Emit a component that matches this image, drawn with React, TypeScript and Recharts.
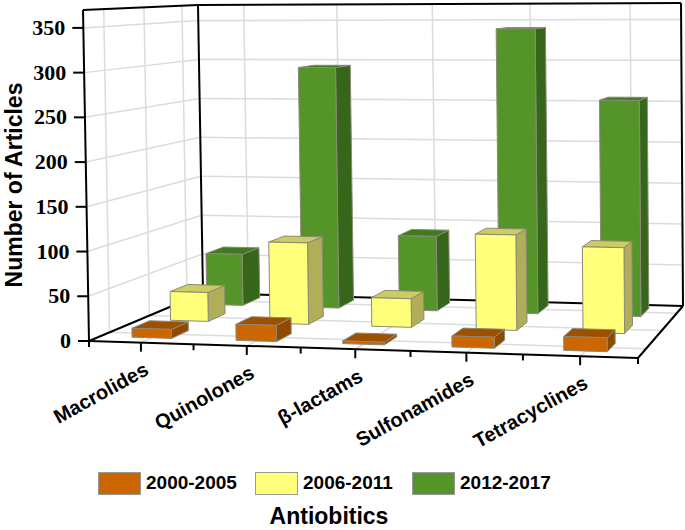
import React from 'react';
import { BarChart, Bar, XAxis, YAxis, Legend, Customized } from 'recharts';

const categories = ['Macrolides', 'Quinolones', 'β-lactams', 'Sulfonamides', 'Tetracyclines'];
const s2000 = [10, 18, 3, 12, 15];
const s2006 = [34, 95, 33, 109, 97];
const s2012 = [63, 294, 90, 341, 256];
const yTicks = [0, 50, 100, 150, 200, 250, 300, 350];
const data = categories.map((c, i) => ({ c, a: s2000[i], b: s2006[i], d: s2012[i] }));

const LEFT = 89, TOP = 10, W = 549, H = 331, CH = 530, CW = 685;
const LEG_H = 30, XH = 60;
const C: Record<string, number[]> = {
  flb: [89, 341], frb: [638, 358], blb: [203, 293], brb: [683, 306],
  flt: [83, 10], frt: [636, 8], blt: [198, 5], brt: [681, 3],
};
const warp = (u: number) => u - 0.06 * u * (1 - u);
const proj = (u: number, v: number, h: number): [number, number] => {
  const w = warp(u);
  const out = [0, 1].map((k) => {
    const b = (1 - v) * ((1 - w) * C.flb[k] + w * C.frb[k]) + v * ((1 - w) * C.blb[k] + w * C.brb[k]);
    const t = (1 - v) * ((1 - w) * C.flt[k] + w * C.frt[k]) + v * ((1 - w) * C.blt[k] + w * C.brt[k]);
    return (1 - h) * b + h * t;
  });
  return [out[0], out[1]];
};
const pts = (a: [number, number][]) => a.map((p) => p.join(',')).join(' ');

const DEPTH = 0.16;
const box = (v: number, top: string, side: string) => (p: any) => {
  const { x, width, height, fill } = p;
  const u0 = (x - LEFT) / W, u1 = (x + width - LEFT) / W, h = height / H;
  const a = proj(u0, v, 0), b = proj(u1, v, 0), c = proj(u1, v, h), e = proj(u0, v, h);
  const c2 = proj(u1, v + DEPTH, h), e2 = proj(u0, v + DEPTH, h), b2 = proj(u1, v + DEPTH, 0);
  const sp = { stroke: '#8a8a78', strokeWidth: 1, strokeLinejoin: 'round' as const };
  return (
    <g>
      <polygon points={pts([b, b2, c2, c])} fill={side} {...sp} />
      <polygon points={pts([e, c, c2, e2])} fill={top} {...sp} />
      <polygon points={pts([a, b, c, e])} fill={fill} {...sp} />
    </g>
  );
};

const GRID = '#dcdcdc';
const depthLines = [0.18, 0.53, 0.86];
const Frame = () => {
  const ln = (p: [number, number], q: [number, number], stroke: string, sw: number, key: string) => (
    <line key={key} x1={p[0]} y1={p[1]} x2={q[0]} y2={q[1]} stroke={stroke} strokeWidth={sw} />
  );
  const items: React.ReactNode[] = [];
  yTicks.filter((t) => t > 0).forEach((t) => {
    const h = t / 370;
    items.push(ln(proj(0, 0, h), proj(0, 1, h), GRID, 1.5, `ls${t}`));
    items.push(ln(proj(0, 1, h), proj(1, 1, h), GRID, 1.5, `bs${t}`));
  });
  depthLines.forEach((v) => {
    items.push(ln(proj(0, v, 0), proj(0, v, 1), GRID, 1.5, `lv${v}`));
    items.push(ln(proj(0, v, 0), proj(1, v, 0), GRID, 1.5, `fv${v}`));
  });
  categories.forEach((_, i) => {
    const u = (i + 0.5) / categories.length;
    items.push(ln(proj(u, 1, 0), proj(u, 1, 1), GRID, 1.5, `bv${i}`));
    items.push(ln(proj(u, 0, 0), proj(u, 1, 0), GRID, 1.5, `fu${i}`));
  });
  const black = '#000';
  const edges: [[number, number], [number, number], string][] = [
    [proj(0, 0, 0), proj(0, 0, 1), 'a'], [proj(0, 0, 1), proj(0, 1, 1), 'b'], [proj(0, 1, 1), proj(0, 1, 0), 'c'],
    [proj(0, 1, 1), proj(1, 1, 1), 'd'], [proj(1, 1, 1), proj(1, 1, 0), 'e'], [proj(0, 0, 0), proj(0, 1, 0), 'f'],
    [proj(0, 1, 0), proj(1, 1, 0), 'g'], [proj(1, 1, 0), proj(1, 0, 0), 'h'], [proj(0, 0, 0), proj(1, 0, 0), 'i'],
  ];
  edges.forEach(([p, q, k]) => items.push(ln(p, q, black, 2, k)));
  categories.concat(['end']).forEach((_, i) => {
    const p = proj(i / categories.length, 0, 0);
    items.push(ln(p, [p[0], p[1] + 6], black, 2, `mt${i}`));
  });
  return <g>{items}</g>;
};

const YTick = (p: any) => {
  const h = (TOP + H - p.y) / H;
  const [px, py] = proj(0, 0, h);
  return (
    <g>
      <line x1={px - 11} y1={py} x2={px} y2={py} stroke="#000" strokeWidth={2} />
      <text x={px - 18} y={py + 7} textAnchor="end" fontFamily="Liberation Serif" fontWeight="bold" fontSize={22} fill="#000">
        {p.payload.value}
      </text>
    </g>
  );
};
const XTick = (p: any) => {
  const [px, py] = proj((p.x - LEFT) / W, 0, 0);
  const ax = px + 9, ay = py + 31;
  return (
    <g>
      <line x1={px} y1={py} x2={px} y2={py + 9} stroke="#000" strokeWidth={2} />
      <text x={ax} y={ay} transform={`rotate(-29 ${ax} ${ay})`} textAnchor="end" fontFamily="Liberation Sans" fontWeight="bold" fontSize={20} fill="#000">
        {p.payload.value}
      </text>
    </g>
  );
};

const legendX = [98, 255, 412];
const LegendBox = (p: any) => {
  const items = [...(p.payload || [])].sort((a: any, b: any) => String(a.value).localeCompare(String(b.value)));
  return (
    <div style={{ position: 'relative', width: CW, height: LEG_H }}>
      {items.map((it: any, i: number) => (
        <React.Fragment key={it.value}>
          <div style={{ position: 'absolute', left: legendX[i], top: 3, width: 41, height: 21, background: it.color, border: '1px solid #999' }} />
          <div style={{ position: 'absolute', left: legendX[i] + 48, top: 3, lineHeight: '22px', fontFamily: 'Liberation Sans', fontWeight: 'bold', fontSize: 19, color: '#000', whiteSpace: 'nowrap' }}>{it.value}</div>
        </React.Fragment>
      ))}
    </div>
  );
};

export default function App() {
  return (
    <div style={{ position: 'absolute', left: 0, top: 0 }}>
      <BarChart
        width={CW}
        height={CH}
        data={data}
        margin={{ top: TOP, left: 0, right: CW - LEFT - W, bottom: CH - TOP - H - XH - LEG_H }}
        barSize={42}
        barGap={-42}
      >
        <Customized component={Frame} />
        <XAxis
          dataKey="c"
          height={XH}
          axisLine={false}
          tickLine={false}
          interval={0}
          tick={<XTick />}
          label={(() => (
            <text x={329} y={524} textAnchor="middle" fontFamily="Liberation Sans" fontWeight="bold" fontSize={23} fill="#000">Antiobitics</text>
          )) as any}
        />
        <YAxis
          width={LEFT}
          domain={[0, 370]}
          ticks={yTicks}
          axisLine={false}
          tickLine={false}
          tick={<YTick />}
          label={(() => (
            <text x={22} y={185} transform="rotate(-90 22 185)" textAnchor="middle" fontFamily="Liberation Sans" fontWeight="bold" fontSize={23} fill="#000">Number of Articles</text>
          )) as any}
        />
        <Legend content={<LegendBox />} wrapperStyle={{ position: 'absolute', left: 0, top: 469, width: CW, height: LEG_H }} />
        <Bar dataKey="d" name="2012-2017" fill="#549428" isAnimationActive={false} shape={box(0.78, '#3f7a1e', '#35661a')} />
        <Bar dataKey="b" name="2006-2011" fill="#FFFF7A" isAnimationActive={false} shape={box(0.45, '#CCCC60', '#B0AE58')} />
        <Bar dataKey="a" name="2000-2005" fill="#CC6600" isAnimationActive={false} shape={box(0.1, '#9C5000', '#8F4A00')} />
      </BarChart>
    </div>
  );
}
